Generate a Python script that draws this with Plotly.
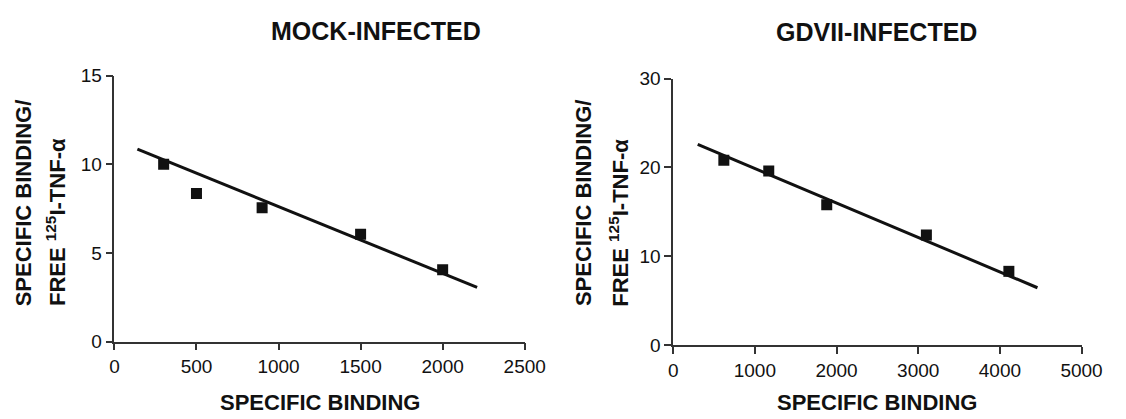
import plotly.graph_objects as go

# ---- data ----
mock_x = [300, 500, 900, 1500, 2000]
mock_y = [10.0, 8.35, 7.55, 6.05, 4.05]
mock_fit_x = [140, 2210]
mock_fit_y = [10.85, 3.05]

gdvii_x = [620, 1170, 1880, 3100, 4110]
gdvii_y = [20.8, 19.6, 15.8, 12.4, 8.3]
gdvii_fit_x = [300, 4460]
gdvii_fit_y = [22.6, 6.45]

mock_xticks = [0, 500, 1000, 1500, 2000, 2500]
mock_yticks = [0, 5, 10, 15]
gdvii_xticks = [0, 1000, 2000, 3000, 4000, 5000]
gdvii_yticks = [0, 10, 20, 30]

titles = ["MOCK-INFECTED", "GDVII-INFECTED"]
x_title = "SPECIFIC BINDING"
y_title_1 = "SPECIFIC BINDING/"
y_title_2 = "FREE <sup>125</sup>I-TNF-α"

W, H = 1126, 419
FONT = "Liberation Sans, Arial, sans-serif"
INK = "#111111"

def px(x):
    return x / W

def py(y):
    return 1 - y / H

fig = go.Figure()

fig.add_trace(go.Scatter(x=mock_fit_x, y=mock_fit_y, mode="lines",
                         line=dict(color=INK, width=3), xaxis="x", yaxis="y",
                         showlegend=False))
fig.add_trace(go.Scatter(x=mock_x, y=mock_y, mode="markers",
                         marker=dict(symbol="square", size=11, color=INK),
                         xaxis="x", yaxis="y", showlegend=False))
fig.add_trace(go.Scatter(x=gdvii_fit_x, y=gdvii_fit_y, mode="lines",
                         line=dict(color=INK, width=3), xaxis="x2", yaxis="y2",
                         showlegend=False))
fig.add_trace(go.Scatter(x=gdvii_x, y=gdvii_y, mode="markers",
                         marker=dict(symbol="square", size=11, color=INK),
                         xaxis="x2", yaxis="y2", showlegend=False))

axis_common = dict(showline=True, linecolor="#333333", linewidth=1.5,
                   ticks="outside", ticklen=7, tickwidth=1.5, tickcolor="#333333",
                   showgrid=False, zeroline=False,
                   tickfont=dict(family=FONT, size=19, color=INK))

fig.update_layout(
    width=W, height=H,
    margin=dict(l=0, r=0, t=0, b=0),
    paper_bgcolor="white", plot_bgcolor="white",
    xaxis=dict(domain=[px(112), px(532)], range=[0, 2500], tickvals=mock_xticks,
               anchor="y", **axis_common),
    yaxis=dict(domain=[py(349), py(69)], range=[0, 15], tickvals=mock_yticks,
               anchor="x", **axis_common),
    xaxis2=dict(domain=[px(684), px(1102)], range=[0, 5000], tickvals=gdvii_xticks,
                anchor="y2", **axis_common),
    yaxis2=dict(domain=[py(352.7), py(72.3)], range=[0, 30], tickvals=gdvii_yticks,
                anchor="x2", **axis_common),
)

ann = []
bold = dict(family=FONT, size=25, color=INK, weight="bold")
ann.append(dict(text=titles[0], x=px(380), y=py(22), xref="paper", yref="paper",
                xanchor="center", yanchor="middle", showarrow=False, font=bold))
ann.append(dict(text=titles[1], x=px(892), y=py(23), xref="paper", yref="paper",
                xanchor="center", yanchor="middle", showarrow=False, font=bold))

axt = dict(family=FONT, size=22, color=INK, weight="bold")
for cx in (322, 893):
    ann.append(dict(text=x_title, x=px(cx), y=0, xref="paper", yref="paper",
                    xanchor="center", yanchor="bottom", yshift=-9,
                    showarrow=False, font=axt))

for c1, c2 in ((19, 52), (592, 629)):
    ann.append(dict(text=y_title_1, x=px(c1), y=py(314), xref="paper", yref="paper",
                    xanchor="center", yanchor="bottom", textangle=-90,
                    showarrow=False, font=axt))
    ann.append(dict(text=y_title_2, x=px(c2), y=py(314), xref="paper", yref="paper",
                    xanchor="center", yanchor="bottom", textangle=-90,
                    showarrow=False, font=axt))

fig.update_layout(annotations=ann)
fig.write_html("out.html")
